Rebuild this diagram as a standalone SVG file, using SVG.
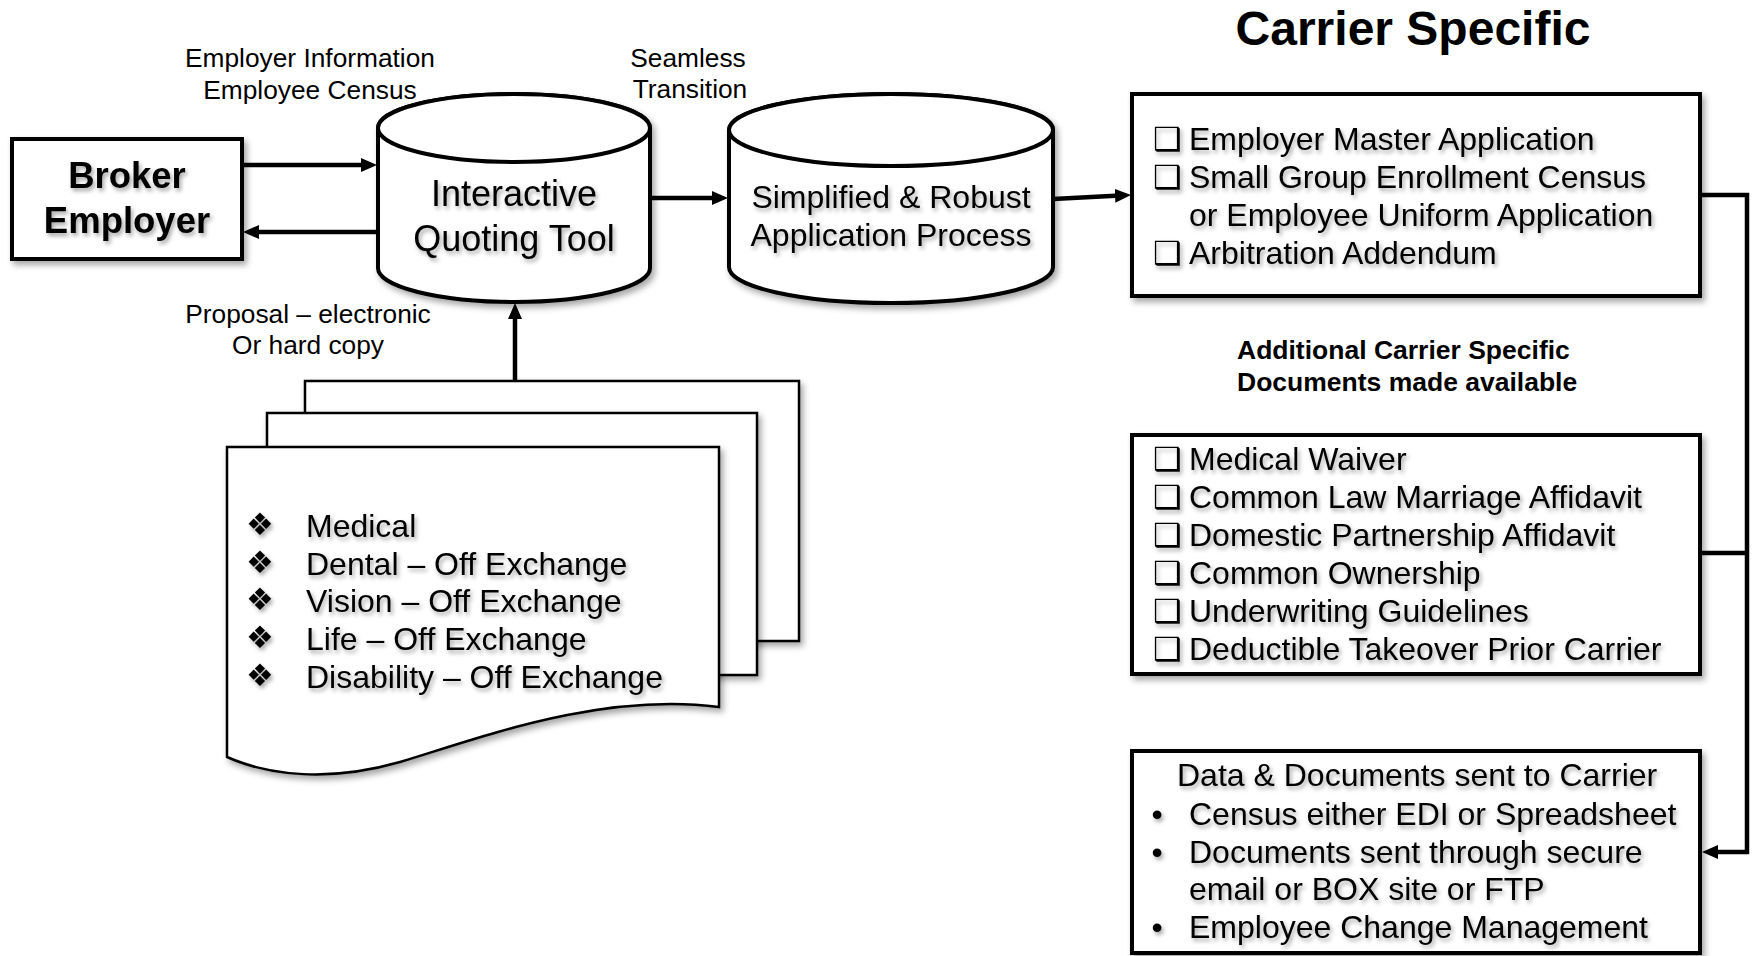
<svg xmlns="http://www.w3.org/2000/svg" width="1756" height="956" viewBox="0 0 1756 956">
<defs>
<filter id="shadow" x="-10%" y="-10%" width="130%" height="130%">
<feDropShadow dx="3" dy="4" stdDeviation="3" flood-color="#000" flood-opacity="0.35"/>
</filter>
<filter id="tshadow" x="-5%" y="-20%" width="115%" height="160%">
<feDropShadow dx="2" dy="3" stdDeviation="2" flood-color="#000" flood-opacity="0.35"/>
</filter>
<marker id="arrow" viewBox="0 0 16 14" refX="10" refY="7" markerWidth="16" markerHeight="14" markerUnits="userSpaceOnUse" orient="auto">
<path d="M0,0 L16,7 L0,14 Z" fill="#000"/>
</marker>
<style>
text{font-family:"Liberation Sans",Arial,sans-serif;fill:#000}
.shape{fill:#fff;stroke:#000;stroke-width:4;stroke-linejoin:miter}
.page{fill:#fff;stroke:#000;stroke-width:2.5}
.conn{fill:none;stroke:#000;stroke-width:4.5}
.label{font-size:26.3px;text-anchor:middle}
.big{font-size:36px;text-anchor:middle}
.item{font-size:32px}
.box{font-family:"DejaVu Sans",sans-serif;font-size:32px;font-weight:bold}
.dia{font-family:"DejaVu Sans",sans-serif;font-size:31px;text-anchor:middle}
.ts{filter:url(#tshadow)}
</style>
</defs>

<text x="1413" y="45" style="font-size:48px;font-weight:bold;text-anchor:middle">Carrier Specific</text>

<g id="connectors">
<path class="conn" d="M242,165 H371" marker-end="url(#arrow)"/>
<path class="conn" d="M378,232 H249" marker-end="url(#arrow)"/>
<path class="conn" d="M650,198 H722" marker-end="url(#arrow)"/>
<path class="conn" d="M1053,199 L1125,195.3" marker-end="url(#arrow)"/>
<path class="conn" d="M515,381 V309" marker-end="url(#arrow)"/>
<path class="conn" d="M1700,195 H1747 V852 H1708" marker-end="url(#arrow)"/>
<path class="conn" d="M1700,553 H1747"/>
</g>

<g id="label-employer-info">
<text class="label" x="310" y="67">Employer Information</text>
<text class="label" x="310" y="99">Employee Census</text>
</g>
<g id="label-seamless">
<text class="label" x="688" y="67">Seamless</text>
<text class="label" x="690" y="98">Transition</text>
</g>
<g id="label-proposal">
<text class="label" x="308" y="323">Proposal – electronic</text>
<text class="label" x="308" y="354">Or hard copy</text>
</g>

<g id="broker-employer">
<rect class="shape" x="12" y="139" width="230" height="120" filter="url(#shadow)"/>
<g class="ts" style="font-size:36.5px;font-weight:bold;text-anchor:middle">
<text x="127" y="188">Broker</text>
<text x="127" y="233">Employer</text>
</g>
</g>

<g id="quoting-tool">
<g filter="url(#shadow)">
<path class="shape" d="M378,128 V268 A136,34 0 0 0 650,268 V128 A136,34 0 0 0 378,128 Z"/>
<ellipse class="shape" cx="514" cy="128" rx="136" ry="34"/>
</g>
<g class="ts">
<text class="big" x="514" y="206">Interactive</text>
<text class="big" x="514" y="251">Quoting Tool</text>
</g>
</g>

<g id="application-process">
<g filter="url(#shadow)">
<path class="shape" d="M729,130 V267 A162,36 0 0 0 1053,267 V130 A162,36 0 0 0 729,130 Z"/>
<ellipse class="shape" cx="891" cy="130" rx="162" ry="36"/>
</g>
<g class="ts" style="font-size:32px;text-anchor:middle">
<text x="891" y="208">Simplified &amp; Robust</text>
<text x="891" y="246">Application Process</text>
</g>
</g>

<g id="documents">
<rect class="page" x="305" y="381" width="494" height="260" filter="url(#shadow)"/>
<rect class="page" x="267" y="413" width="490" height="262" filter="url(#shadow)"/>
<path class="page" d="M227,447 H719 V707 C600,692 480,738 400,762 C330,782 270,776 227,757 Z" filter="url(#shadow)"/>
<g class="ts">
<text class="dia" x="260" y="535">❖</text>
<text class="dia" x="260" y="573">❖</text>
<text class="dia" x="260" y="610">❖</text>
<text class="dia" x="260" y="648">❖</text>
<text class="dia" x="260" y="686">❖</text>
<text class="item" x="306" y="537">Medical</text>
<text class="item" x="306" y="575">Dental – Off Exchange</text>
<text class="item" x="306" y="612">Vision – Off Exchange</text>
<text class="item" x="306" y="650">Life – Off Exchange</text>
<text class="item" x="306" y="688">Disability – Off Exchange</text>
</g>
</g>

<g id="carrier-forms">
<rect class="shape" x="1132" y="94" width="568" height="202" filter="url(#shadow)"/>
<g class="ts">
<text class="box" x="1153" y="150">❑</text>
<text class="box" x="1153" y="188">❑</text>
<text class="box" x="1153" y="264">❑</text>
<text class="item" x="1189" y="150">Employer Master Application</text>
<text class="item" x="1189" y="188">Small Group Enrollment Census</text>
<text class="item" x="1189" y="226">or Employee Uniform Application</text>
<text class="item" x="1189" y="264">Arbitration Addendum</text>
</g>
</g>

<g id="label-additional">
<text x="1237" y="359" style="font-size:26.5px;font-weight:bold">Additional Carrier Specific</text>
<text x="1237" y="391" style="font-size:26.5px;font-weight:bold">Documents made available</text>
</g>

<g id="additional-documents">
<rect class="shape" x="1132" y="435" width="568" height="239" filter="url(#shadow)"/>
<g class="ts">
<text class="box" x="1153" y="470">❑</text>
<text class="box" x="1153" y="508">❑</text>
<text class="box" x="1153" y="546">❑</text>
<text class="box" x="1153" y="584">❑</text>
<text class="box" x="1153" y="622">❑</text>
<text class="box" x="1153" y="660">❑</text>
<text class="item" x="1189" y="470">Medical Waiver</text>
<text class="item" x="1189" y="508">Common Law Marriage Affidavit</text>
<text class="item" x="1189" y="546">Domestic Partnership Affidavit</text>
<text class="item" x="1189" y="584">Common Ownership</text>
<text class="item" x="1189" y="622">Underwriting Guidelines</text>
<text class="item" x="1189" y="660">Deductible Takeover Prior Carrier</text>
</g>
</g>

<g id="data-sent">
<rect class="shape" x="1132" y="751" width="568" height="202" filter="url(#shadow)"/>
<g class="ts">
<text class="item" x="1177" y="786">Data &amp; Documents sent to Carrier</text>
<text class="item" x="1157" y="825" text-anchor="middle">•</text>
<text class="item" x="1157" y="863" text-anchor="middle">•</text>
<text class="item" x="1157" y="938" text-anchor="middle">•</text>
<text class="item" x="1189" y="825">Census either EDI or Spreadsheet</text>
<text class="item" x="1189" y="863">Documents sent through secure</text>
<text class="item" x="1189" y="900">email or BOX site or FTP</text>
<text class="item" x="1189" y="938">Employee Change Management</text>
</g>
</g>
</svg>
